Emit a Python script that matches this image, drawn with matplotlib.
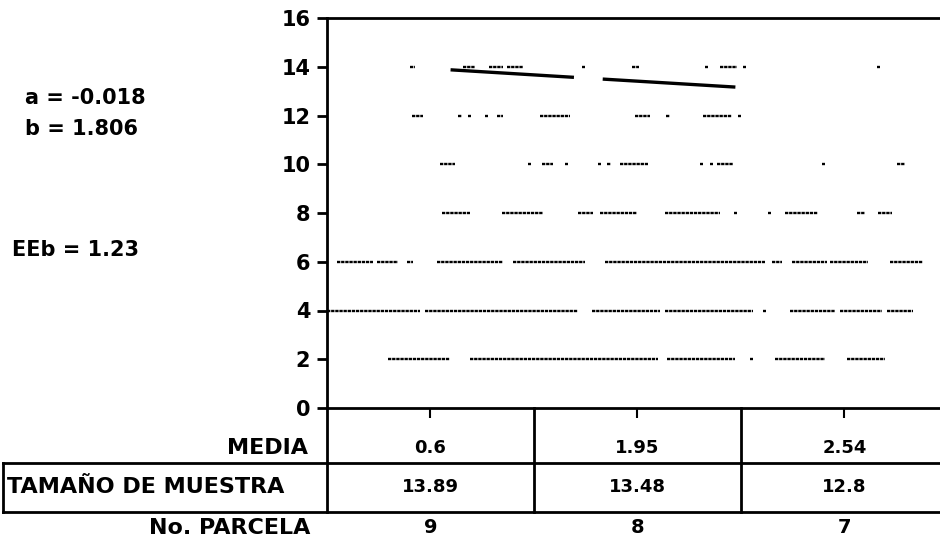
import matplotlib
matplotlib.use("Agg")
from matplotlib import pyplot as plt

plt.rcParams['font.family'] = 'DejaVu Sans'
plt.rcParams['font.weight'] = 'bold'

# dotted runs of points at each sample-size level (x start, x end)
level_2 = [(0.59, 1.19), (1.38, 3.20), (3.29, 3.94), (4.09, 4.12), (4.33, 4.81), (5.02, 5.39)]
level_4 = [(0.0, 0.90), (0.95, 2.43), (2.56, 3.22), (3.27, 4.12), (4.21, 4.24), (4.47, 4.91),
           (4.96, 5.36), (5.41, 5.66)]
level_6 = [(0.10, 0.44), (0.48, 0.69), (0.77, 0.83), (1.06, 1.70), (1.80, 2.49), (2.69, 4.23),
           (4.30, 4.40), (4.49, 4.83), (4.86, 5.23), (5.44, 5.76)]
level_8 = [(1.11, 1.38), (1.69, 2.09), (2.43, 2.57), (2.64, 3.00), (3.27, 3.80), (3.93, 3.96),
           (4.26, 4.29), (4.43, 4.74), (5.12, 5.20), (5.32, 5.46)]
level_10 = [(1.09, 1.24), (1.94, 1.97), (2.08, 2.18), (2.30, 2.33), (2.62, 2.65), (2.71, 2.74),
            (2.83, 3.10), (3.60, 3.63), (3.70, 3.73), (3.77, 3.92), (4.78, 4.81), (5.51, 5.58)]
level_12 = [(0.82, 0.93), (1.27, 1.30), (1.36, 1.39), (1.53, 1.56), (1.64, 1.70), (2.06, 2.35),
            (2.98, 3.12), (3.28, 3.31), (3.63, 3.91), (3.97, 4.00)]
level_14 = [(0.80, 0.85), (1.31, 1.43), (1.57, 1.70), (1.74, 1.89), (2.46, 2.49), (2.95, 3.01),
            (3.65, 3.68), (3.80, 3.96), (4.02, 4.05), (5.31, 5.34)]
levels = {2: level_2, 4: level_4, 6: level_6, 8: level_8, 10: level_10, 12: level_12, 14: level_14}

# fitted line (two pieces)
reg_x1 = [1.21, 2.37]
reg_y1 = [13.87, 13.57]
reg_x2 = [2.68, 3.93]
reg_y2 = [13.49, 13.17]

# table below the plot
col_pos = [1, 3, 5]
media = ['0.6', '1.95', '2.54']
tamano = ['13.89', '13.48', '12.8']
parcela = ['9', '8', '7']
stats = ['a = -0.018', 'b = 1.806', 'EEb = 1.23']

fig = plt.figure(figsize=(9.4, 5.49), dpi=100)
ax = fig.add_axes([327/940, 141/549, 613/940, 390/549])

for y, runs in levels.items():
    for x0, x1 in runs:
        ax.plot([x0, x1], [y, y], color='black', lw=1.7, ls=(0, (1.4, 0.35)), solid_capstyle='butt')

ax.plot(reg_x1, reg_y1, color='black', lw=2.4)
ax.plot(reg_x2, reg_y2, color='black', lw=2.4)

ax.set_xlim(0, 5.923)
ax.set_ylim(0, 16)
ax.set_yticks(range(0, 17, 2))
ax.set_xticks(col_pos)
ax.set_xticklabels([])
ax.tick_params(axis='y', direction='out', length=7, width=2, pad=5, labelsize=15)
ax.tick_params(axis='x', direction='out', length=7, width=1.5)
ax.spines['right'].set_visible(False)
for s in ['left', 'bottom', 'top']:
    ax.spines[s].set_linewidth(2)

# table grid
box_top = -2.26
box_bot = -4.27
box_left = -3.13
xr = 5.923
ax.plot([0, 0], [0, box_bot], color='black', lw=2, clip_on=False)
ax.plot([2, 2], [0, box_bot], color='black', lw=2, clip_on=False)
ax.plot([4, 4], [0, box_bot], color='black', lw=2, clip_on=False)
ax.plot([box_left, xr], [box_top, box_top], color='black', lw=2, clip_on=False)
ax.plot([box_left, xr], [box_bot, box_bot], color='black', lw=2, clip_on=False)
ax.plot([box_left, box_left], [box_top, box_bot], color='black', lw=2, clip_on=False)

ax.text(-0.18, -1.64, 'MEDIA', ha='right', va='center', fontsize=16, fontweight='heavy')
ax.text(box_left + 0.04, -3.24, 'TAMAÑO DE MUESTRA', ha='left', va='center', fontsize=16, fontweight='heavy')
ax.text(-0.16, -4.92, 'No. PARCELA', ha='right', va='center', fontsize=16, fontweight='heavy')
for x, m, t, p in zip(col_pos, media, tamano, parcela):
    ax.text(x, -1.64, m, ha='center', va='center', fontsize=13, fontweight='heavy')
    ax.text(x, -3.24, t, ha='center', va='center', fontsize=13, fontweight='heavy')
    ax.text(x, -4.92, p, ha='center', va='center', fontsize=14, fontweight='heavy')

fig.text(25/940, 1 - 98/549, stats[0], ha='left', va='center', fontsize=15, fontweight='heavy')
fig.text(25/940, 1 - 129/549, stats[1], ha='left', va='center', fontsize=15, fontweight='heavy')
fig.text(12/940, 1 - 250/549, stats[2], ha='left', va='center', fontsize=15, fontweight='heavy')

fig.savefig('out.png', dpi=100)
